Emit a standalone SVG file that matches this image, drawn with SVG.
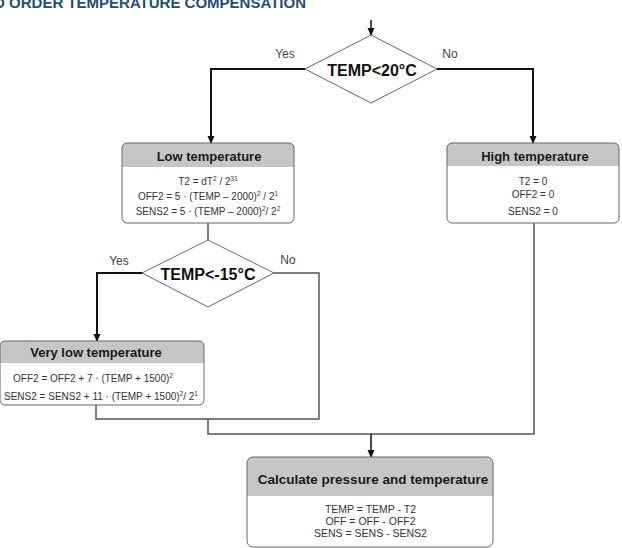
<svg xmlns="http://www.w3.org/2000/svg" width="622" height="548" viewBox="0 0 622 548">
<style>
text{font-family:"Liberation Sans",Arial,sans-serif;fill:#222}
.title{font-size:15px;font-weight:bold;fill:#1f4e79}
.hd{font-size:13px;font-weight:bold;text-anchor:middle;fill:#1a1a1a}
.bd{font-size:10px;text-anchor:middle;fill:#333}
.dt{font-size:16px;font-weight:bold;text-anchor:middle;fill:#111}
.lb{font-size:12px;fill:#444}
.box{fill:none;stroke:#666;stroke-width:1}
.hfill{fill:#c6c6c6}
.dia{fill:#fff;stroke:#666;stroke-width:1}
.thk{fill:none;stroke:#111;stroke-width:2}
.thn{fill:none;stroke:#555;stroke-width:1.5}
.sup{font-size:6.5px}
</style>
<defs>
<marker id="a2" markerWidth="8" markerHeight="8" refX="7" refY="4" orient="auto" markerUnits="userSpaceOnUse" viewBox="0 0 8 8">
<path d="M0,0.5 L8,4 L0,7.5 Z" fill="#111"/>
</marker>
</defs>

<text class="title" x="306" y="8" text-anchor="end">SECOND ORDER TEMPERATURE COMPENSATION</text>

<g id="connectors">
<path class="thn" d="M371,20 V35" style="stroke:#111" marker-end="url(#a2)"/>
<path class="thk" d="M305,69 H211 V143" marker-end="url(#a2)"/>
<path class="thk" d="M437,69 H533 V143" marker-end="url(#a2)"/>
<path class="thn" d="M208,223 V240"/>
<path class="thk" d="M143,273 H97 V341" marker-end="url(#a2)"/>
<path class="thn" d="M274,273 H319 V419 H96 V405"/>
<path class="thn" d="M208,419 V434 H534 V223"/>
<path class="thn" d="M371,434 V457" style="stroke:#111" marker-end="url(#a2)"/>
</g>

<g id="d1">
<polygon class="dia" points="371,35 437,69 371,103 305,69"/>
<text class="dt" x="372" y="76">TEMP&lt;20°C</text>
<text class="lb" x="285" y="58" text-anchor="middle">Yes</text>
<text class="lb" x="450" y="58" text-anchor="middle">No</text>
</g>

<g id="low">
<rect x="122" y="143" width="172" height="80" rx="5" fill="#fff"/>
<path class="hfill" d="M122,167 V148 Q122,143 127,143 H289 Q294,143 294,148 V167 Z"/>
<rect class="box" x="122" y="143" width="172" height="80" rx="5"/>
<text class="hd" x="209" y="161">Low temperature</text>
<text class="bd" x="208" y="185">T2 = dT<tspan class="sup" dy="-4">2</tspan><tspan dy="4"> / 2</tspan><tspan class="sup" dy="-4">31</tspan></text>
<text class="bd" x="208" y="199.5">OFF2 = 5 · (TEMP – 2000)<tspan class="sup" dy="-4">2</tspan><tspan dy="4"> / 2</tspan><tspan class="sup" dy="-4">1</tspan></text>
<text class="bd" x="208" y="214.5">SENS2 = 5 · (TEMP – 2000)<tspan class="sup" dy="-4">2</tspan><tspan dy="4">/ 2</tspan><tspan class="sup" dy="-4">2</tspan></text>
</g>

<g id="high">
<rect x="447" y="143" width="172" height="80" rx="5" fill="#fff"/>
<path class="hfill" d="M447,166 V148 Q447,143 452,143 H614 Q619,143 619,148 V166 Z"/>
<rect class="box" x="447" y="143" width="172" height="80" rx="5"/>
<text class="hd" x="535" y="161">High temperature</text>
<text class="bd" x="533" y="184.5">T2 = 0</text>
<text class="bd" x="533" y="198">OFF2 = 0</text>
<text class="bd" x="533" y="214.5">SENS2 = 0</text>
</g>

<g id="d2">
<polygon class="dia" points="208,240 274,273 208,307 142,273"/>
<text class="dt" x="208" y="280">TEMP&lt;-15°C</text>
<text class="lb" x="119" y="265" text-anchor="middle">Yes</text>
<text class="lb" x="288" y="264" text-anchor="middle">No</text>
</g>

<g id="verylow">
<rect x="0" y="341" width="204" height="64" rx="5" fill="#fff"/>
<path class="hfill" d="M0,363 V346 Q0,341 5,341 H199 Q204,341 204,346 V363 Z"/>
<rect class="box" x="0" y="341" width="204" height="64" rx="5"/>
<text class="hd" x="96" y="357">Very low temperature</text>
<text class="bd" x="93" y="382">OFF2 = OFF2 + 7 · (TEMP + 1500)<tspan class="sup" dy="-4">2</tspan></text>
<text class="bd" x="101" y="399.5">SENS2 = SENS2 + 11 · (TEMP + 1500)<tspan class="sup" dy="-4">2</tspan><tspan dy="4">/ 2</tspan><tspan class="sup" dy="-4">1</tspan></text>
</g>

<g id="calc">
<rect x="247" y="457" width="246" height="90" rx="6" fill="#fff"/>
<path class="hfill" d="M247,496 V463 Q247,457 253,457 H487 Q493,457 493,463 V496 Z"/>
<rect class="box" x="247" y="457" width="246" height="90" rx="6"/>
<text class="hd" x="373" y="484" style="font-size:13.5px">Calculate pressure and temperature</text>
<text class="bd" x="370.5" y="513" style="font-size:10.5px">TEMP = TEMP - T2</text>
<text class="bd" x="370.5" y="525" style="font-size:10.5px">OFF = OFF - OFF2</text>
<text class="bd" x="370.5" y="537" style="font-size:10.5px">SENS = SENS - SENS2</text>
</g>
</svg>
